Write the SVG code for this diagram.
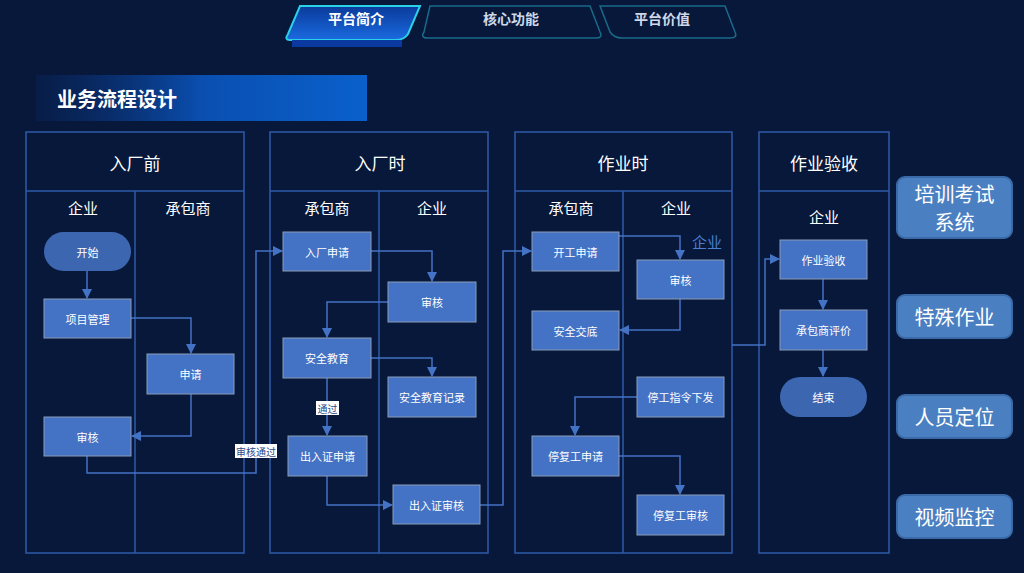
<svg xmlns="http://www.w3.org/2000/svg" width="1024" height="573" viewBox="0 0 1024 573">
<defs>
<linearGradient id="bn" x1="0" x2="1"><stop offset="0" stop-color="#0a2a6a" stop-opacity="0.3"/><stop offset="0.5" stop-color="#0a4fb0"/><stop offset="1" stop-color="#0a60cc"/></linearGradient>
<linearGradient id="tabA" x1="0" y1="0" x2="0" y2="1"><stop offset="0" stop-color="#0a3a9a"/><stop offset="1" stop-color="#1a6ae0"/></linearGradient>
<marker id="ar" viewBox="0 0 10 10" refX="9" refY="5" markerWidth="7" markerHeight="7" orient="auto"><path d="M0,0L10,5L0,10z" fill="#4472c4"/></marker>
<style>
text{font-family:"Noto Sans CJK SC","Noto Sans",sans-serif;text-anchor:middle;dominant-baseline:central}
.pool{fill:none;stroke:#2f5aa8;stroke-width:1.5}
.n{fill:#4472c4;stroke:#8a9bb8;stroke-width:1}
.nt{fill:#fff;font-size:11px}
.ht{fill:#fff;font-size:17px}
.lt{fill:#fff;font-size:15px}
.c{fill:none;stroke:#4472c4;stroke-width:1.5;marker-end:url(#ar)}
.side{fill:#4a7fc1;stroke:#3a6aa8;stroke-width:2}
.st{fill:#fff;font-size:20px}
.tab{fill:none;stroke:#1a6a8a;stroke-width:1.5}
</style>
</defs>
<rect width="1024" height="573" fill="#07183a"/>
<g id="tabs">
<path d="M300,6 L420,6 L408,34 Q404,40 396,40 L290,40 Q284,40 288,34 Z" fill="url(#tabA)" stroke="#2ad0e8" stroke-width="2"/>
<rect x="292" y="40" width="110" height="7" fill="#0a3aa0"/>
<text x="356" y="18" fill="#fff" font-size="14" font-weight="bold">平台简介</text>
<path d="M430,6 L590,6 L600,32 Q603,38 596,38 L428,38 Q420,38 424,32 Z" class="tab"/>
<text x="511" y="18" fill="#cfd8e8" font-size="14" font-weight="bold">核心功能</text>
<path d="M600,6 L725,6 L735,32 Q738,38 730,38 L622,38 Q614,38 610,32 Z" class="tab"/>
<text x="662" y="18" fill="#cfd8e8" font-size="14" font-weight="bold">平台价值</text>
</g>
<g id="title">
<rect x="36" y="75" width="331" height="46" fill="url(#bn)"/>
<text x="117" y="98" fill="#fff" font-size="20" font-weight="bold">业务流程设计</text>
</g>
<g id="pools">
<rect class="pool" x="26" y="132" width="218" height="421"/><line class="pool" x1="26" y1="191" x2="244" y2="191"/><line class="pool" x1="135" y1="191" x2="135" y2="553"/>
<text class="ht" x="135" y="162">入厂前</text><text class="lt" x="83" y="207">企业</text><text class="lt" x="188" y="207">承包商</text>
<rect class="pool" x="270" y="132" width="218" height="421"/><line class="pool" x1="270" y1="191" x2="488" y2="191"/><line class="pool" x1="379" y1="191" x2="379" y2="553"/>
<text class="ht" x="380" y="162">入厂时</text><text class="lt" x="327" y="207">承包商</text><text class="lt" x="432" y="207">企业</text>
<rect class="pool" x="515" y="132" width="217" height="421"/><line class="pool" x1="515" y1="191" x2="732" y2="191"/><line class="pool" x1="623" y1="191" x2="623" y2="553"/>
<text class="ht" x="623" y="162">作业时</text><text class="lt" x="571" y="207">承包商</text><text class="lt" x="676" y="207">企业</text>
<text x="707" y="241" fill="#4a7fd0" font-size="15">企业</text>
<rect class="pool" x="759" y="132" width="130" height="421"/><line class="pool" x1="759" y1="191" x2="889" y2="191"/>
<text class="ht" x="824" y="162">作业验收</text><text class="lt" x="824" y="216">企业</text>
</g>
<g id="connectors">
<path class="c" d="M87,271V298"/>
<path class="c" d="M131,318H191V353"/>
<path class="c" d="M191,394V436H132"/>
<path class="c" d="M87,456V473H256V251H282"/>
<path class="c" d="M371,251H432V281"/>
<path class="c" d="M388,302H327V337"/>
<path class="c" d="M371,358H432V376"/>
<path class="c" d="M327,378V435"/>
<path class="c" d="M327,476V505H392"/>
<path class="c" d="M480,505H503V251H531"/>
<path class="c" d="M619,236H680V259"/>
<path class="c" d="M680,299V330H620"/>
<path class="c" d="M637,397H575V435"/>
<path class="c" d="M619,456H680V494"/>
<path class="c" d="M732,345H765V259H779"/>
<path class="c" d="M823,279V309"/>
<path class="c" d="M823,350V376"/>
<rect x="235" y="444" width="42" height="14" fill="#fff"/><text x="256" y="451" fill="#2a4a8a" font-size="10">审核通过</text>
<rect x="316" y="401" width="23" height="14" fill="#fff"/><text x="327.5" y="408" fill="#2a4a8a" font-size="10">通过</text>
</g>
<g id="n1"><rect x="44" y="232" width="87" height="39" rx="19.5" fill="#3d66b0"/><text class="nt" x="87.5" y="251.5">开始</text></g>
<g id="n2"><rect class="n" x="44" y="299" width="87" height="39"/><text class="nt" x="87.5" y="318.5">项目管理</text></g>
<g id="n3"><rect class="n" x="147" y="354" width="87" height="40"/><text class="nt" x="190.5" y="374">申请</text></g>
<g id="n4"><rect class="n" x="44" y="417" width="87" height="39"/><text class="nt" x="87.5" y="436.5">审核</text></g>
<g id="n5"><rect class="n" x="283" y="232" width="88" height="39"/><text class="nt" x="327" y="251.5">入厂申请</text></g>
<g id="n6"><rect class="n" x="388" y="282" width="88" height="40"/><text class="nt" x="432" y="302">审核</text></g>
<g id="n7"><rect class="n" x="283" y="338" width="88" height="40"/><text class="nt" x="327" y="358">安全教育</text></g>
<g id="n8"><rect class="n" x="388" y="377" width="88" height="40"/><text class="nt" x="432" y="397">安全教育记录</text></g>
<g id="n9"><rect class="n" x="288" y="436" width="79" height="40"/><text class="nt" x="327.5" y="456">出入证申请</text></g>
<g id="n10"><rect class="n" x="393" y="485" width="87" height="39"/><text class="nt" x="436.5" y="504.5">出入证审核</text></g>
<g id="n11"><rect class="n" x="532" y="232" width="87" height="39"/><text class="nt" x="575.5" y="251.5">开工申请</text></g>
<g id="n12"><rect class="n" x="637" y="260" width="87" height="39"/><text class="nt" x="680.5" y="279.5">审核</text></g>
<g id="n13"><rect class="n" x="532" y="311" width="87" height="39"/><text class="nt" x="575.5" y="330.5">安全交底</text></g>
<g id="n14"><rect class="n" x="637" y="377" width="87" height="40"/><text class="nt" x="680.5" y="397">停工指令下发</text></g>
<g id="n15"><rect class="n" x="532" y="436" width="87" height="40"/><text class="nt" x="575.5" y="456">停复工申请</text></g>
<g id="n16"><rect class="n" x="637" y="495" width="87" height="40"/><text class="nt" x="680.5" y="515">停复工审核</text></g>
<g id="n17"><rect class="n" x="780" y="240" width="87" height="39"/><text class="nt" x="823.5" y="259.5">作业验收</text></g>
<g id="n18"><rect class="n" x="780" y="310" width="87" height="40"/><text class="nt" x="823.5" y="330">承包商评价</text></g>
<g id="n19"><rect x="780" y="377" width="87" height="40" rx="20" fill="#3d66b0"/><text class="nt" x="823.5" y="397">结束</text></g>
<g id="s1"><rect class="side" x="897" y="177" width="115" height="61" rx="8"/><text class="st" x="954.5" y="193">培训考试</text><text class="st" x="954.5" y="221">系统</text></g>
<g id="s2"><rect class="side" x="897" y="295" width="115" height="43" rx="8"/><text class="st" x="954.5" y="316.5">特殊作业</text></g>
<g id="s3"><rect class="side" x="897" y="395" width="115" height="43" rx="8"/><text class="st" x="954.5" y="416.5">人员定位</text></g>
<g id="s4"><rect class="side" x="897" y="495" width="115" height="43" rx="8"/><text class="st" x="954.5" y="516.5">视频监控</text></g>
</svg>
